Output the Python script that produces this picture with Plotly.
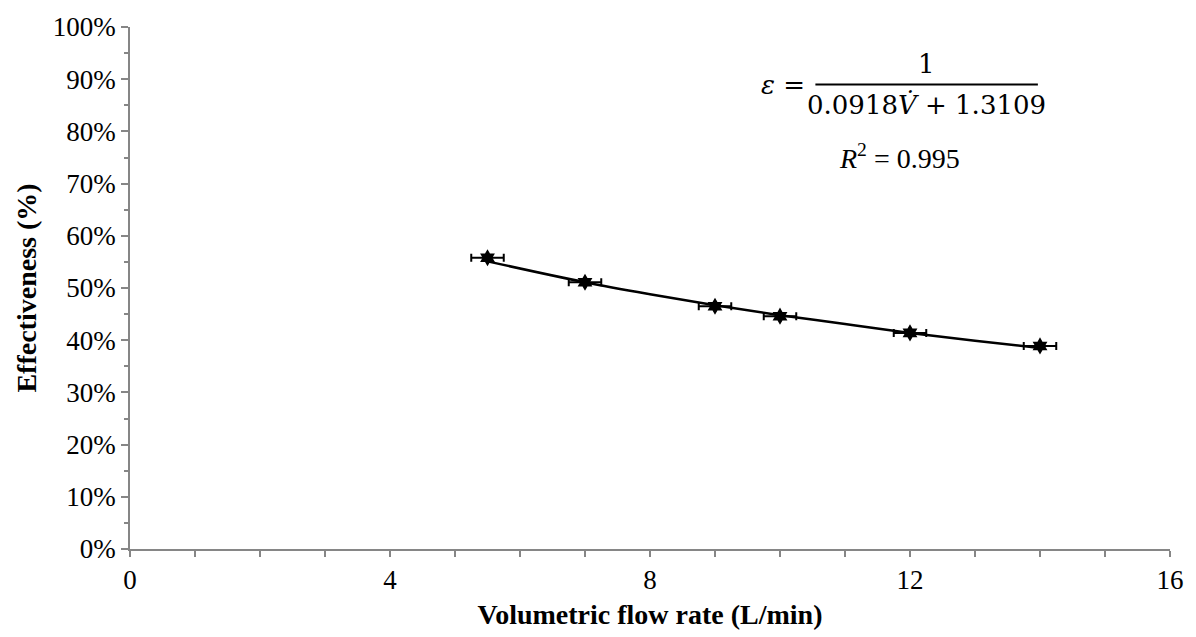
import plotly.graph_objects as go

# Measured data
flow_rate = [5.5, 7, 9, 10, 12, 14]                 # L/min
effectiveness = [0.558, 0.511, 0.465, 0.446, 0.414, 0.389]
flow_err = [0.25, 0.25, 0.25, 0.25, 0.25, 0.25]     # L/min

# Trend line
fit_x = [5.5, 7, 8, 9, 10, 11, 12, 13, 14]
fit_y = [0.551, 0.511, 0.488, 0.467, 0.448, 0.431, 0.414, 0.399, 0.385]

AX = "#868686"
FONT = "Liberation Serif"
MATH = "DejaVu Serif"

fig = go.Figure()
fig.add_trace(go.Scatter(
    x=fit_x, y=fit_y, mode="lines", line=dict(color="black", width=2.5, shape="spline"),
    showlegend=False, hoverinfo="skip"))
fig.add_trace(go.Scatter(
    x=flow_rate, y=effectiveness, mode="markers",
    marker=dict(symbol="hexagram", size=13, color="black"),
    error_x=dict(type="data", array=flow_err, color="black", thickness=2, width=4),
    showlegend=False))

fig.update_layout(
    width=1196, height=637,
    margin=dict(l=130, r=19, t=20, b=81),
    paper_bgcolor="white", plot_bgcolor="white",
    font=dict(family=FONT, size=27, color="black"),
    xaxis=dict(range=[0, 16], dtick=4, tick0=0,
               ticks="outside", ticklen=6, tickcolor=AX, tickwidth=1.5,
               minor=dict(dtick=1, ticks="outside", ticklen=6, tickcolor=AX, tickwidth=1.5),
               showline=True, linecolor=AX, linewidth=1.5, showgrid=False, zeroline=False,
               title=dict(text="<b>Volumetric flow rate (L/min)</b>", font=dict(size=28), standoff=10)),
    yaxis=dict(range=[0, 1], dtick=0.1, tickformat=".0%",
               ticks="outside", ticklen=7, tickcolor=AX, tickwidth=1.5,
               minor=dict(dtick=0.05, ticks="outside", ticklen=4, tickcolor=AX, tickwidth=1.5),
               showline=True, linecolor=AX, linewidth=1.5, showgrid=False, zeroline=False,
               title=dict(text="<b>Effectiveness (%)</b>", font=dict(size=28), standoff=8)),
)

def px(xp):
    return (xp - 130) / 1047

def py(yp):
    return (556 - yp) / 536

EQ = 26
fig.add_annotation(x=px(932), y=py(58), xref="paper", yref="paper", text="1",
                   showarrow=False, font=dict(family=MATH, size=EQ), xanchor="center", yanchor="middle")
fig.add_annotation(x=px(932), y=py(100), xref="paper", yref="paper",
                   text="0.0918<i>V\u0307</i> + 1.3109",
                   showarrow=False, font=dict(family=MATH, size=EQ), xanchor="center", yanchor="middle")
fig.add_annotation(x=px(812), y=py(80), xref="paper", yref="paper", text="<i>ε</i> =",
                   showarrow=False, font=dict(family=MATH, size=EQ), xanchor="right", yanchor="middle")
fig.add_shape(type="line", xref="paper", yref="paper",
              x0=px(820), x1=px(1044), y0=py(79), y1=py(79), line=dict(color="black", width=2))
fig.add_annotation(x=px(842), y=py(153), xref="paper", yref="paper",
                   text="<i>R</i><sup>2</sup> = 0.995",
                   showarrow=False, font=dict(size=28), xanchor="left", yanchor="middle")

fig.write_html("out.html")
